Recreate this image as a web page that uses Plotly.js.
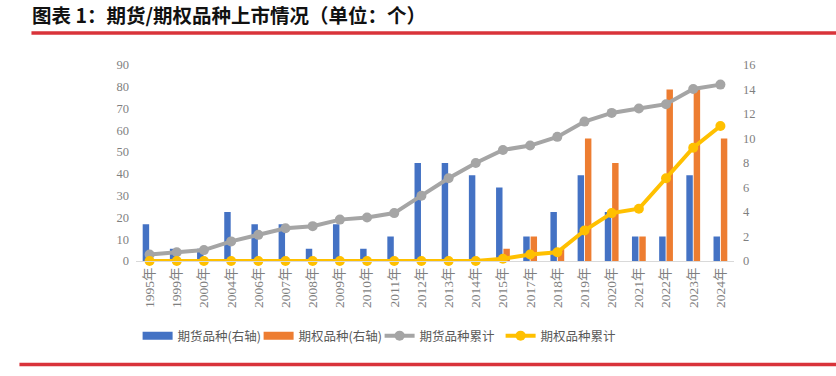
<!DOCTYPE html>
<html><head><meta charset="utf-8">
<script src="https://cdn.plot.ly/plotly-3.0.1.min.js"></script>
<style>body{margin:0;background:#fff}#c{width:836px;height:376px}</style>
</head><body><div id="c"></div>
<script>
const years = ["1995年","1999年","2000年","2004年","2006年","2007年","2008年","2009年","2010年","2011年","2012年","2013年","2014年","2015年","2017年","2018年","2019年","2020年","2021年","2022年","2023年","2024年"];
const futuresNew = [3,1,1,4,3,3,1,3,1,2,8,8,7,6,2,4,7,4,2,2,7,2];
const optionsNew = [0,0,0,0,0,0,0,0,0,0,0,0,0,1,2,1,10,8,2,14,14,10];
const futuresCum = [3,4,5,9,12,15,16,19,20,22,30,38,45,51,53,57,64,68,70,72,79,81];
const optionsCum = [0,0,0,0,0,0,0,0,0,0,0,0,0,1,3,4,14,22,24,38,52,62];
const seriesNames = ["期货品种(右轴)","期权品种(右轴)","期货品种累计","期权品种累计"];
const colors = ["#4472C4","#ED7D31","#A5A5A5","#FFC000"];

const W=836,H=376,L=136.4,R=733.6,T=65,B=261;
const px=x=>(x-L)/(R-L), py=y=>(B-y)/(B-T);
const serif = "Liberation Serif, 'Noto Sans CJK SC', serif";
const tickFont = {family: serif, size: 12.5, color:"#7f7f7f"};

const data = [
 {type:"bar", name:seriesNames[0], x:years, y:futuresNew, marker:{color:colors[0]}, yaxis:"y", showlegend:false},
 {type:"bar", name:seriesNames[1], x:years, y:optionsNew, marker:{color:colors[1]}, yaxis:"y", showlegend:false},
 {type:"scatter", mode:"lines", name:seriesNames[0], x:[null], y:[null], yaxis:"y2", line:{color:colors[0], width:8}, legendrank:1},
 {type:"scatter", mode:"lines", name:seriesNames[1], x:[null], y:[null], yaxis:"y2", line:{color:colors[1], width:8}, legendrank:2},
 {type:"scatter", mode:"lines+markers", name:seriesNames[2], x:years, y:futuresCum, yaxis:"y2", cliponaxis:false,
  line:{color:colors[2], width:4}, marker:{color:colors[2], size:10}, legendrank:3},
 {type:"scatter", mode:"lines+markers", name:seriesNames[3], x:years, y:optionsCum, yaxis:"y2", cliponaxis:false,
  line:{color:colors[3], width:4}, marker:{color:colors[3], size:10}, legendrank:4}
];

const layout = {
 width:W, height:H, margin:{l:L, r:W-R, t:T, b:H-B},
 paper_bgcolor:"#fff", plot_bgcolor:"rgba(0,0,0,0)",
 showlegend:true,
 barmode:"group", bargap:0.46, bargroupgap:0.12,
 title:{text:"<b>图表 1：期货/期权品种上市情况（单位：个）</b>", x:32/W, xref:"container", xanchor:"left",
   y:1-16/H, yref:"container", yanchor:"middle",
   font:{family:"'Noto Sans CJK SC', serif", size:19.5, color:"#111"}},
 xaxis:{type:"category", range:[-0.5, years.length-0.5], autorange:false, tickangle:-90,
   tickfont:{family: serif, size: 13.5, color:"#7f7f7f"}, showgrid:false, showline:true,
   linecolor:"#d9d9d9", linewidth:1, ticks:"", zeroline:false, fixedrange:true},
 yaxis:{side:"right", range:[0,16], dtick:2, showgrid:false, zeroline:false, tickfont:tickFont,
   ticks:"", ticklabelstandoff:8, showline:false},
 yaxis2:{side:"left", overlaying:"y", range:[0,90], dtick:10, showgrid:false, zeroline:false,
   tickfont:tickFont, ticks:"", ticklabelstandoff:6, showline:false},
 legend:{orientation:"h", x:px(138), xanchor:"left", y:py(336), yanchor:"middle", entrywidth:76, entrywidthmode:"pixels",
   font:{family:"'Noto Sans CJK SC', sans-serif", size:12.5, color:"#595959"}, traceorder:"normal"},
 shapes:[
  {type:"line", xref:"paper", yref:"paper", x0:px(32), x1:px(836), y0:py(33), y1:py(33), line:{color:"#D9333A", width:3.5}},
  {type:"line", xref:"paper", yref:"paper", x0:px(20), x1:px(836), y0:py(364.5), y1:py(364.5), line:{color:"#D9333A", width:3.5}}
 ]
};
Plotly.newPlot("c", data, layout, {displayModeBar:false, staticPlot:true});
</script></body></html>
